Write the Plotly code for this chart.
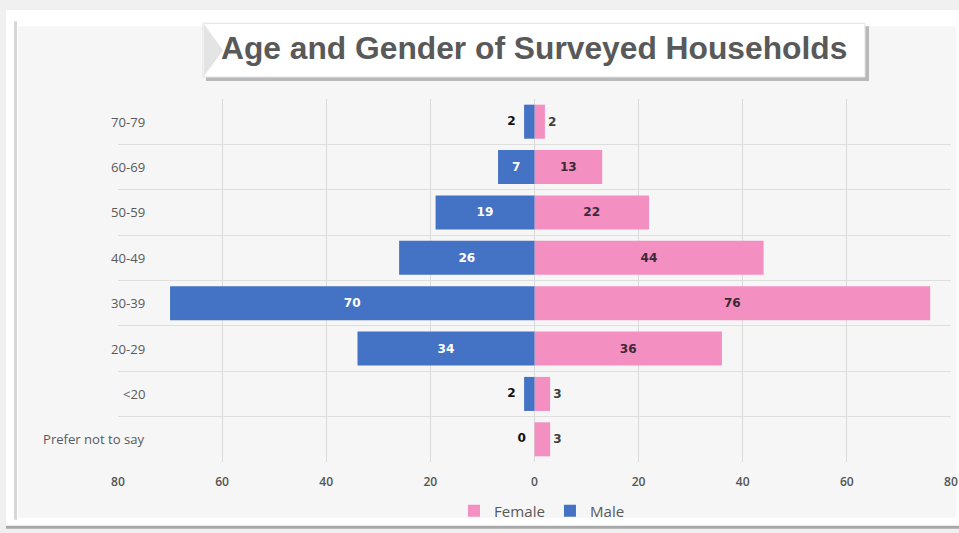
import plotly.graph_objects as go

# ---- data ----
categories = ["Prefer not to say", "<20", "20-29", "30-39", "40-49", "50-59", "60-69", "70-79"]
male = [0, 2, 34, 70, 26, 19, 7, 2]
female = [3, 3, 36, 76, 44, 22, 13, 2]
tick_vals = [-80, -60, -40, -20, 0, 20, 40, 60, 80]
tick_text = ["80", "60", "40", "20", "0", "20", "40", "60", "80"]
title_text = "Age and Gender of Surveyed Households"

# the photographed page is slightly downscaled; compensate
S = 967 / 959
W, H = 959, 533
L, R, T, B = 117, 9, 98, 71
PW, PH = W - L - R, H - T - B
SMALL = 5  # values below this get their label outside the bar


def px(x):
    return (x - L) / PW


def py(y):
    return 1 - (y - T) / PH


def sc(v):
    return v * S


BLUE = "#4472C4"
PINK = "#F48FC1"

fig = go.Figure()

fig.add_trace(go.Bar(
    y=categories, x=female, orientation="h", name="Female",
    marker=dict(color=PINK, line=dict(width=0)),
    text=[str(v) for v in female],
    textposition=["outside" if v < SMALL else "inside" for v in female],
    insidetextanchor="middle",
    insidetextfont=dict(family="DejaVu Sans", size=sc(12), color="#3d2a38", weight="bold"),
    outsidetextfont=dict(family="DejaVu Sans", size=sc(12), color="#404040", weight="bold"),
    cliponaxis=False, hoverinfo="skip",
))
# male bars drawn on a mirrored axis so they grow to the left
fig.add_trace(go.Bar(
    y=categories, x=male, orientation="h", name="Male", xaxis="x2",
    marker=dict(color=BLUE, line=dict(width=0)),
    text=[str(v) if v >= SMALL else "" for v in male],
    textposition=["none" if v < SMALL else "inside" for v in male],
    insidetextanchor="middle",
    insidetextfont=dict(family="DejaVu Sans", size=sc(12), color="#ffffff", weight="bold"),
    cliponaxis=False, hoverinfo="skip",
))
# outside labels for the small male bars (left of the bar tip)
small_idx = [i for i, v in enumerate(male) if v < SMALL]
fig.add_trace(go.Scatter(
    y=[categories[i] for i in small_idx], x=[male[i] for i in small_idx], xaxis="x2",
    mode="markers+text", text=[str(male[i]) for i in small_idx], textposition="middle left",
    marker=dict(size=12, color="rgba(0,0,0,0)"),
    textfont=dict(family="DejaVu Sans", size=sc(12), color="#111111", weight="bold"),
    showlegend=False, cliponaxis=False, hoverinfo="skip",
))

shapes = [
    # outer panel
    dict(type="rect", xref="paper", yref="paper", x0=px(5), x1=px(961), y0=py(529), y1=py(8),
         fillcolor="#a8a8a8", line=dict(width=0), layer="below"),
    dict(type="rect", xref="paper", yref="paper", x0=px(5), x1=px(961), y0=py(526), y1=py(8),
         fillcolor="#ffffff", line=dict(width=0), layer="below"),
    dict(type="rect", xref="paper", yref="paper", x0=px(13), x1=px(16), y0=py(520), y1=py(20),
         fillcolor="#d6d6d6", line=dict(width=0), layer="below"),
    dict(type="rect", xref="paper", yref="paper", x0=px(17), x1=px(955), y0=py(518), y1=py(25),
         fillcolor="#f6f6f6", line=dict(width=0), layer="below"),
    # title box shadow + box
    dict(type="rect", xref="paper", yref="paper", x0=px(205), x1=px(868), y0=py(80), y1=py(25),
         fillcolor="#b9b9b9", line=dict(width=0), layer="below"),
    dict(type="rect", xref="paper", yref="paper", x0=px(202), x1=px(864), y0=py(76), y1=py(22),
         fillcolor="#ffffff", line=dict(color="#e2e2e2", width=1), layer="below"),
    dict(type="path", xref="paper", yref="paper",
         path=f"M {px(203)},{py(23)} L {px(222)},{py(49)} L {px(203)},{py(75)} Z",
         fillcolor="#e4e4e4", line=dict(width=0), layer="below"),
    # cover grid behind the category labels
    dict(type="rect", xref="paper", yref="paper", x0=px(114), x1=px(141), y0=py(457), y1=py(104),
         fillcolor="#f6f6f6", line=dict(width=0), layer="between"),
]

annotations = [
    dict(text=title_text, xref="paper", yref="paper", x=px(533), y=py(47),
         xanchor="center", yanchor="middle", showarrow=False,
         font=dict(family="Liberation Sans", size=sc(31.5), color="#595959", weight="bold")),
]
for c in categories:
    annotations.append(dict(text=c, xref="paper", yref="y", x=px(146), y=c,
                            xanchor="right", yanchor="middle", showarrow=False,
                            font=dict(family="Open Sans", size=sc(13), color="#595959")))

fig.update_layout(
    width=round(sc(W)), height=round(sc(H)),
    margin=dict(l=sc(L), r=sc(R), t=sc(T), b=sc(B), pad=0),
    paper_bgcolor="#f0f0f0", plot_bgcolor="rgba(0,0,0,0)",
    barmode="overlay", bargap=0.25,
    showlegend=True,
    legend=dict(orientation="h", x=px(541), y=py(511), xanchor="center", yanchor="middle",
                font=dict(family="Open Sans", size=sc(15), color="#595959"),
                bgcolor="rgba(0,0,0,0)", itemwidth=30, traceorder="normal"),
    shapes=shapes, annotations=annotations,
    xaxis=dict(range=[-80, 80], tickvals=tick_vals, ticktext=tick_text,
               showgrid=True, gridcolor="#dadada", gridwidth=1, zeroline=False,
               ticks="outside", ticklen=sc(8), tickcolor="rgba(0,0,0,0)",
               tickfont=dict(family="Open Sans", size=sc(12), color="#555555", weight=600),
               fixedrange=True),
    xaxis2=dict(range=[80, -80], overlaying="x", side="bottom", visible=False,
                showgrid=False, zeroline=False, fixedrange=True),
    yaxis=dict(type="category", categoryorder="array", categoryarray=categories,
               showticklabels=False, tickson="boundaries", showgrid=True,
               gridcolor="#dedede", gridwidth=1, zeroline=False, ticks="",
               range=[-0.5, len(categories) - 0.5], fixedrange=True),
)

post = (
    "var d=document.documentElement,b=document.body;"
    "d.style.margin='0';d.style.padding='0';d.style.overflow='hidden';"
    "b.style.margin='0';b.style.padding='0';b.style.overflow='hidden';"
    "window.scrollTo(0,0);"
)

fig.write_html("out.html", config={"displayModeBar": False}, post_script=post)
